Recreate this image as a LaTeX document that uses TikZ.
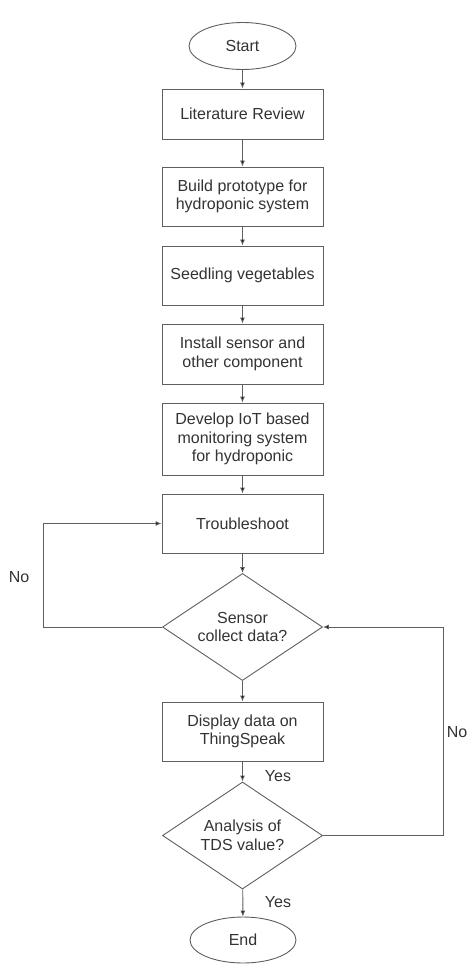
\documentclass[tikz,border=0pt]{standalone}
\usepackage{fontspec}
\setmainfont{Liberation Sans}
\usetikzlibrary{shapes.geometric,arrows.meta}
\definecolor{linec}{HTML}{5F5F5F}
\definecolor{textc}{HTML}{333333}
\begin{document}
\begin{tikzpicture}[x=1pt,y=-1pt,
  every node/.style={font=\fontsize{16}{18.5}\selectfont, text=textc},
  box/.style={draw=linec, line width=0.9pt, rectangle, minimum width=161pt, align=center, inner sep=2pt},
  oval/.style={draw=linec, line width=0.9pt, ellipse, inner sep=0pt},
  dia/.style={draw=linec, line width=0.9pt, diamond, inner sep=0pt, minimum width=160pt, minimum height=107pt},
  arr/.style={draw=linec, line width=0.9pt, -{Latex[length=6pt,width=5pt,fill=black]}},
  lbl/.style={inner sep=0pt}
]
\useasboundingbox (0,0) rectangle (469,965);
\node[oval, minimum width=107pt, minimum height=47pt] (start) at (242.5,46) {Start};
\node[box, minimum height=50pt] (lit) at (242.5,114) {Literature Review};
\node[box, minimum height=59pt] (build) at (242.5,196.5) {Build prototype for\\hydroponic system};
\node[box, minimum height=59pt] (seed) at (242.5,275.5) {Seedling vegetables};
\node[box, minimum height=60pt] (inst) at (242.5,354) {Install sensor and\\other component};
\node[box, minimum height=72pt] (dev) at (242.5,439) {Develop IoT based\\monitoring system\\for hydroponic};
\node[box, minimum height=59pt] (trb) at (242.5,523.5) {Troubleshoot};
\node[dia] (d1) at (242.5,627) {};
\node[lbl, align=center] (d1t) at (242.5,627) {Sensor\\collect data?};
\node[box, minimum height=59pt] (disp) at (242.5,731.5) {Display data on\\ThingSpeak};
\node[dia] (d2) at (242.5,835.5) {};
\node[lbl, align=center] (d2t) at (242.5,835.5) {Analysis of\\TDS value?};
\node[oval, minimum width=106pt, minimum height=46pt] (end) at (243,940) {End};

\coordinate (lc) at (43,627);
\coordinate (rc) at (443,835.5);

\draw[arr] (start) -- (lit);
\draw[arr] (lit) -- (build);
\draw[arr] (build) -- (seed);
\draw[arr] (seed) -- (inst);
\draw[arr] (inst) -- (dev);
\draw[arr] (dev) -- (trb);
\draw[arr] (trb) -- (d1);
\draw[arr] (d1) -- (disp);
\draw[arr] (disp) -- (d2);
\draw[arr] (d2) -- (end);
\draw[arr] (d1.west) -- (lc) |- (trb.west);
\draw[arr] (d2.east) -- (rc) |- (d1.east);

\node[lbl] (no1) at (19,577) {No};
\node[lbl] (no2) at (457,732) {No};
\node[lbl] (yes1) at (278,776) {Yes};
\node[lbl] (yes2) at (278,902) {Yes};
\end{tikzpicture}
\end{document}
